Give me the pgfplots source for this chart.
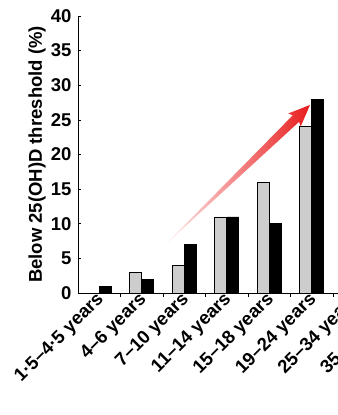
\documentclass[border=0pt]{standalone}
\usepackage{fontspec}
\setmainfont{Liberation Sans}
\usepackage{pgfplots}
\pgfplotsset{compat=1.18}
\definecolor{arrowred}{RGB}{232,28,28}
\definecolor{lightbar}{RGB}{205,205,205}
\begin{document}
\begin{tikzpicture}
\useasboundingbox (0,0) rectangle (338bp,415bp);
\clip (0,0) rectangle (338bp,415bp);
\begin{axis}[
  at={(78bp,122bp)}, anchor=south west,
  scale only axis, x=42.5bp, y=6.925bp,
  xmin=-0.5, xmax=7.5, ymin=0, ymax=40,
  axis x line=bottom, axis y line=left,
  axis line style={-, black, line width=0.8bp},
  xtick={0,...,7},
  xticklabels={1·5–4·5 years, 4–6 years, 7–10 years, 11–14 years, 15–18 years, 19–24 years, 25–34 years, 35–49 years},
  minor xtick={0.5,1.5,...,7.5},
  ytick={0,5,...,40},
  major tick length=3bp, minor tick length=4bp,
  tick align=inside,
  major x tick style={draw=none},
  tick style={black, line width=0.6bp},
  ybar, bar width=12bp,
  /pgf/number format/assume math mode=true,
  tick label style={font=\fontsize{18.5bp}{21bp}\selectfont\bfseries},
  label style={font=\fontsize{18.5bp}{21bp}\selectfont\bfseries},
  yticklabel style={xshift=-3bp},
  ylabel={Below 25(OH)D threshold (\%)},
  ylabel style={at={(axis description cs:-0.1206,0.5)}, anchor=center},
  xticklabel style={xshift=-4bp, yshift=10bp, rotate=45, anchor=north east},
]
\addplot[fill=lightbar, draw=black, line width=0.6bp, bar shift=-6bp] coordinates {(1,3) (2,4) (3,11) (4,16) (5,24)};
\addplot[fill=black, draw=black, line width=0.6bp, bar shift=6bp] coordinates {(0,1) (1,2) (2,7) (3,11) (4,10) (5,28)};
\end{axis}
\begin{scope}[shift={(165bp,170bp)}, rotate=44]
\shade[left color=red!6, right color=arrowred] (0,0) -- (182bp,-4.5bp) -- (180bp,-9bp) -- (201.6bp,0) -- (180bp,9bp) -- (182bp,4.5bp) -- cycle;
\end{scope}
\end{tikzpicture}
\end{document}
